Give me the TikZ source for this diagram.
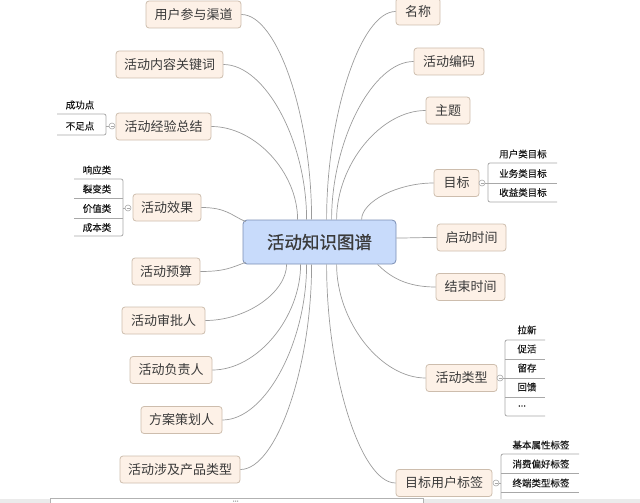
\documentclass[tikz,border=0pt]{standalone}
\usepackage{fontspec}
\setmainfont{Noto Sans CJK SC}
\newfontfamily\centerfont[FakeBold=0.7]{Noto Sans CJK SC}
\newfontfamily\leaffont[FakeBold=0.25]{Noto Sans CJK SC}
\definecolor{peach}{HTML}{FDF1E7}
\definecolor{peachline}{HTML}{CDBDAD}
\definecolor{cfill}{HTML}{C8DBFB}
\definecolor{cline}{HTML}{7A8EB4}
\definecolor{connc}{HTML}{9C9C9C}
\definecolor{txt}{HTML}{3A3A3A}
\definecolor{brk}{HTML}{A8A8A8}
\begin{document}
\begin{tikzpicture}[x=1pt,y=1pt,
 topic/.style={draw=peachline, fill=peach, rounded corners=3pt, minimum height=27pt, inner sep=0pt, font=\fontsize{13}{13}\selectfont, text=txt, line width=0.8pt},
 central/.style={draw=cline, fill=cfill, rounded corners=4pt, minimum width=153pt, minimum height=44pt, inner sep=0pt, font=\fontsize{17.5}{18}\centerfont, text=txt, line width=0.8pt},
 leaf/.style={inner sep=0pt, font=\fontsize{9.5}{10}\leaffont, text=black!90},
 conn/.style={draw=connc, line width=0.7pt},
 bracket/.style={draw=brk, line width=0.8pt, rounded corners=2pt},
 knob/.style={circle, draw=brk, fill=white, line width=0.6pt, minimum size=6pt, inner sep=0pt,
   path picture={\draw[brk, line width=0.5pt] ([xshift=-1.5pt]path picture bounding box.center) -- ([xshift=1.5pt]path picture bounding box.center);}}
]
\useasboundingbox (0,0) rectangle (640,-503);

% central
\node[central] (c) at (319.5,-242) {活动知识图谱};

% left topics
\node[topic, minimum width=95pt] (qd) at (193.5,-14.5) {用户参与渠道};
\node[topic, minimum width=107pt] (gjc) at (169.5,-64.5) {活动内容关键词};
\node[topic, minimum width=95pt] (jy) at (163.5,-126.5) {活动经验总结};
\node[topic, minimum width=68pt] (xg) at (167,-207.5) {活动效果};
\node[topic, minimum width=68pt] (ys) at (166,-271.5) {活动预算};
\node[topic, minimum width=83pt] (sp) at (163.5,-320.5) {活动审批人};
\node[topic, minimum width=82pt] (fz) at (171,-370) {活动负责人};
\node[topic, minimum width=81pt] (ch) at (181.5,-420) {方案策划人};
\node[topic, minimum width=120pt] (cp) at (180,-469.5) {活动涉及产品类型};

% right topics
\node[topic, minimum width=44pt] (mc) at (418,-11.5) {名称};
\node[topic, minimum width=70pt] (bm) at (449,-61.5) {活动编码};
\node[topic, minimum width=44pt] (zt) at (448,-110.5) {主题};
\node[topic, minimum width=45pt] (mb) at (456.5,-183) {目标};
\node[topic, minimum width=69pt] (qdsj) at (471.5,-237.5) {启动时间};
\node[topic, minimum width=69pt] (jssj) at (470.5,-287) {结束时间};
\node[topic, minimum width=71pt] (lx) at (461.5,-378) {活动类型};
\node[topic, minimum width=96pt] (bq) at (444,-483) {目标用户标签};

% connectors left
\draw[conn] (qd.east) .. controls +(36,0) and +(0,103) .. ([xshift=69pt]c.north west);
\draw[conn] (gjc.east) .. controls +(42,0) and +(0,78) .. ([xshift=64pt]c.north west);
\draw[conn] (jy.east) .. controls +(44,0) and +(0,47) .. ([xshift=55pt]c.north west);
\draw[conn] (xg.east) .. controls +(25,0) and +(-14,6) .. ([shift={(3pt,-2pt)}]c.north west);
\draw[conn] (ys.east) .. controls +(25,0) and +(-14,-5) .. ([shift={(3pt,2pt)}]c.south west);
\draw[conn] (sp.east) .. controls +(41,0) and +(0,-28) .. ([xshift=44pt]c.south west);
\draw[conn] (fz.east) .. controls +(45,0) and +(0,-53) .. ([xshift=58pt]c.south west);
\draw[conn] (ch.east) .. controls +(43,0) and +(0,-78) .. ([xshift=64pt]c.south west);
\draw[conn] (cp.east) .. controls +(36,0) and +(0,-103) .. ([xshift=69pt]c.south west);

% connectors right
\draw[conn] (mc.west) .. controls +(-35,0) and +(0,104) .. ([xshift=84pt]c.north west);
\draw[conn] (bm.west) .. controls +(-41,0) and +(0,79) .. ([xshift=89pt]c.north west);
\draw[conn] (zt.west) .. controls +(-45,0) and +(0,55) .. ([xshift=94pt]c.north west);
\draw[conn] (mb.west) .. controls +(-36,0) and +(0,18) .. ([xshift=119pt]c.north west);
\draw[conn] (qdsj.west) .. controls +(-20,0) and +(15,0) .. ([yshift=4pt]c.east);
\draw[conn] (jssj.west) .. controls +(-30,0) and +(12,-12) .. ([xshift=135pt]c.south west);
\draw[conn] (lx.west) .. controls +(-45,0) and +(0,-57) .. ([xshift=94pt]c.south west);
\draw[conn] (bq.west) .. controls +(-35,0) and +(0,-110) .. ([xshift=84pt]c.south west);

% 活动经验总结 children
\draw[bracket] (57,-114) -- (106,-114) -- (106,-135) -- (57,-135);
\node[knob] (k1) at (112,-126) {};
\draw[bracket] (k1.west) -- (106,-126);
\node[leaf] (l11) at (80,-105) {成功点};
\node[leaf] (l12) at (80,-126) {不足点};

% 活动效果 children
\draw[bracket] (74,-179) -- (123,-179) -- (123,-236) -- (74,-236);
\draw[bracket] (74,-198) -- (123,-198);
\draw[bracket] (74,-218) -- (123,-218);
\node[knob] (k2) at (128,-208) {};
\draw[bracket] (k2.west) -- (123,-208);
\node[leaf] (l21) at (97,-170) {响应类};
\node[leaf] (l22) at (97,-189) {裂变类};
\node[leaf] (l23) at (97,-208.5) {价值类};
\node[leaf] (l24) at (97,-227.5) {成本类};

% 目标 children
\draw[bracket] (557,-163) -- (488,-163) -- (488,-202) -- (557,-202);
\draw[bracket] (488,-183) -- (557,-183);
\node[knob] (k3) at (482,-183) {};
\draw[bracket] (k3.east) -- (488,-183);
\node[leaf] (l31) at (523,-154) {用户类目标};
\node[leaf] (l32) at (523,-173.5) {业务类目标};
\node[leaf] (l33) at (523,-192.5) {收益类目标};

% 活动类型 children
\draw[bracket] (545,-340) -- (505,-340) -- (505,-416) -- (545,-416);
\draw[bracket] (505,-359) -- (545,-359);
\draw[bracket] (505,-378) -- (545,-378);
\draw[bracket] (505,-397) -- (545,-397);
\node[knob] (k4) at (500,-378) {};
\draw[bracket] (k4.east) -- (505,-378);
\node[leaf] (l41) at (527,-330) {拉新};
\node[leaf] (l42) at (527,-349) {促活};
\node[leaf] (l43) at (527,-368) {留存};
\node[leaf] (l44) at (527,-387) {回馈};
\node[leaf] (l45) at (522,-406) {...};

% 目标用户标签 children
\draw[bracket] (579,-454) -- (501,-454) -- (501,-503);
\draw[bracket] (501,-473) -- (579,-473);
\draw[bracket] (501,-492) -- (579,-492);
\node[knob] (k5) at (496,-483) {};
\draw[bracket] (k5.east) -- (501,-483);
\node[leaf] (l51) at (541,-445) {基本属性标签};
\node[leaf] (l52) at (541,-464) {消费偏好标签};
\node[leaf] (l53) at (541,-483) {终端类型标签};

% bottom scroll bar
\fill[black!8] (0,-498.5) rectangle (640,-503);
\draw[black!30, fill=white, line width=0.6pt] (50,-498.5) rectangle (423,-504);
\fill[black!45] (233,-500.5) rectangle (234,-501.5) (235,-500.5) rectangle (236,-501.5) (237,-500.5) rectangle (238,-501.5);
\end{tikzpicture}
\end{document}
